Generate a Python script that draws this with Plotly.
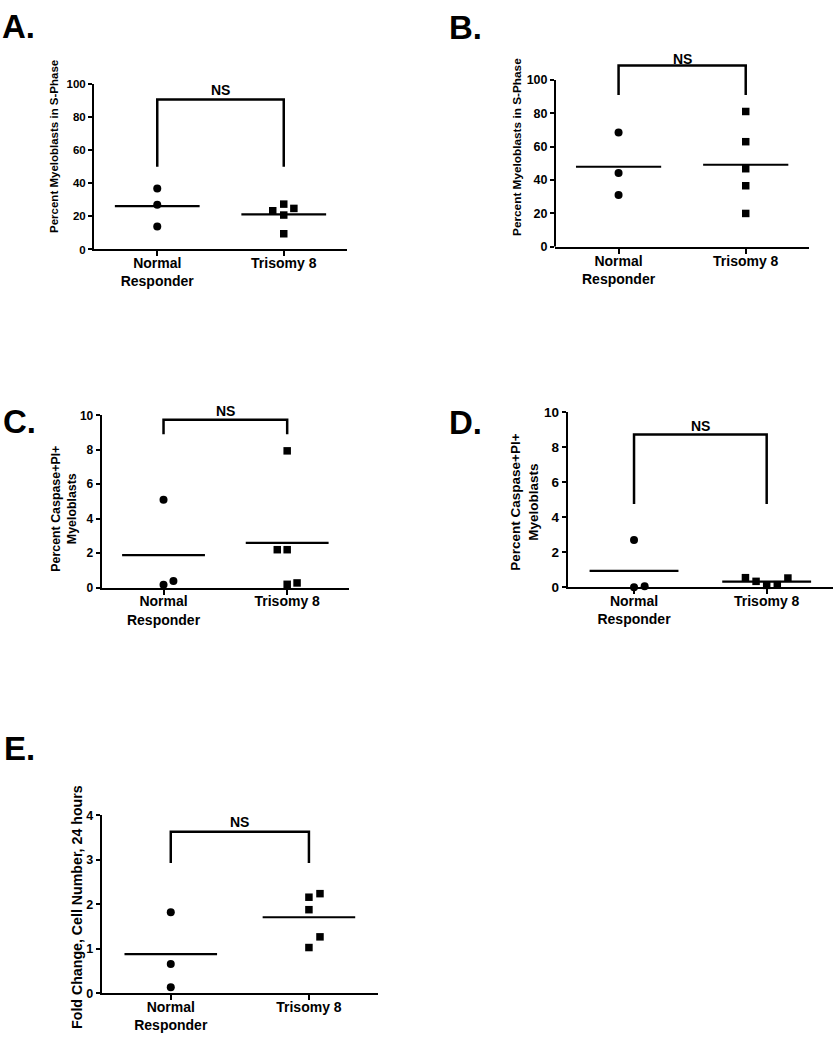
import plotly.graph_objects as go

# ---------------- data ----------------
categories = ["Normal<br>Responder", "Trisomy 8"]

a_normal = [36.9, 27.0, 13.9]
a_trisomy = [27.4, 23.4, 24.8, 20.8, 9.5]
a_means = [26.2, 21.2]
a_yticks = [0, 20, 40, 60, 80, 100]

b_normal = [68.5, 44.3, 31.0]
b_trisomy = [81.1, 63.0, 46.8, 36.6, 20.0]
b_means = [48.0, 49.2]
b_yticks = [0, 20, 40, 60, 80, 100]

c_normal = [5.1, 0.17, 0.38]
c_trisomy = [7.94, 2.2, 2.2, 0.19, 0.27]
c_means = [1.89, 2.6]
c_yticks = [0, 2, 4, 6, 8, 10]

d_normal = [2.71, 0.0, 0.06]
d_trisomy = [0.55, 0.34, 0.11, 0.15, 0.53]
d_means = [0.94, 0.32]
d_yticks = [0, 2, 4, 6, 8, 10]

e_normal = [1.82, 0.66, 0.14]
e_trisomy = [2.24, 2.16, 1.88, 1.27, 1.03]
e_means = [0.88, 1.71]
e_yticks = [0, 1, 2, 3, 4]

significance = "NS"

# ---------------- layout / styling ----------------
W, H = 835, 1050
FONT = "Liberation Sans, Arial, Helvetica, sans-serif"


def fx(p):
    return p / W


def fy(p):
    return 1 - p / H


panels = [
    dict(letter="A.", normal=a_normal, trisomy=a_trisomy, means=a_means, yticks=a_yticks,
         box=(94, 347, 78, 246), yrange=[0, 100], axis_top=100,
         jn=[0, 0, 0], jt=[0, -0.087, 0.08, 0, 0],
         bracket=(50, 90.5, 96.4),
         title="Percent Myeloblasts in S-Phase", title_pos=(54, 142), title_size=11.5,
         tick_size=11.5, letter_pos=(0, 20)),
    dict(letter="B.", normal=b_normal, trisomy=b_trisomy, means=b_means, yticks=b_yticks,
         box=(555, 809.3, 52, 243.3), yrange=[0, 113], axis_top=100,
         jn=[0, 0, 0], jt=[0, 0, 0, 0, 0],
         bracket=(91, 108.7, 112.4),
         title="Percent Myeloblasts in S-Phase", title_pos=(517, 142), title_size=11.8,
         tick_size=12.5, letter_pos=(447, 21)),
    dict(letter="C.", normal=c_normal, trisomy=c_trisomy, means=c_means, yticks=c_yticks,
         box=(101.7, 349, 414.3, 589), yrange=[0, 10], axis_top=10,
         jn=[0, 0, 0.08], jt=[0, -0.08, 0, 0, 0.08],
         bracket=(8.9, 9.75, 10.25),
         title="Percent Caspase+PI+<br>Myeloblasts", title_pos=(64, 509), title_size=12.4,
         tick_size=12, letter_pos=(1, 420)),
    dict(letter="D.", normal=d_normal, trisomy=d_trisomy, means=d_means, yticks=d_yticks,
         box=(567.7, 833, 411.3, 588.7), yrange=[0, 10], axis_top=10,
         jn=[0, 0, 0.08], jt=[-0.16, -0.08, 0, 0.08, 0.16],
         bracket=(4.76, 8.74, 9.23),
         title="Percent Caspase+PI+<br>Myeloblasts", title_pos=(525, 503), title_size=13.5,
         tick_size=13.5, letter_pos=(447, 422)),
    dict(letter="E.", normal=e_normal, trisomy=e_trisomy, means=e_means, yticks=e_yticks,
         box=(101.7, 378, 820, 1000.7), yrange=[0, 4], axis_top=4,
         jn=[0, 0, 0], jt=[0.08, 0, 0, 0.08, 0],
         bracket=(2.93, 3.63, 3.85),
         title="Fold Change, Cell Number, 24 hours", title_pos=(77, 913), title_size=14.2,
         tick_size=12.5, letter_pos=(2, 752)),
]

fig = go.Figure()
annotations = []
shapes = []
layout_axes = {}

MEAN_HALF = 0.335
MARK = 8

for i, p in enumerate(panels):
    n = "" if i == 0 else str(i + 1)
    xa, ya = "x" + n, "y" + n
    x0, x1, y0, y1 = p["box"]
    r0, r1 = p["yrange"]

    # points
    fig.add_trace(go.Scatter(
        x=[0 + j for j in p["jn"]], y=p["normal"], xaxis=xa, yaxis=ya, mode="markers",
        marker=dict(symbol="circle", size=MARK, color="black"), showlegend=False,
        cliponaxis=False))
    fig.add_trace(go.Scatter(
        x=[1 + j for j in p["jt"]], y=p["trisomy"], xaxis=xa, yaxis=ya, mode="markers",
        marker=dict(symbol="square", size=MARK - 0.5, color="black"), showlegend=False,
        cliponaxis=False))
    # mean lines
    for k, m in enumerate(p["means"]):
        fig.add_trace(go.Scatter(
            x=[k - MEAN_HALF, k + MEAN_HALF], y=[m, m], xaxis=xa, yaxis=ya, mode="lines",
            line=dict(color="black", width=2.2), showlegend=False))
    # bracket
    lo, top, ns_y = p["bracket"]
    fig.add_trace(go.Scatter(
        x=[0, 0, 1, 1], y=[lo, top, top, lo], xaxis=xa, yaxis=ya, mode="lines",
        line=dict(color="black", width=2.5), showlegend=False))
    annotations.append(dict(
        x=0.5, y=(ns_y - r0) / (r1 - r0), xref=xa, yref=ya + " domain", text=significance,
        showarrow=False,
        font=dict(family=FONT, size=14, color="black", weight="bold"),
        xanchor="center", yanchor="middle"))

    manual_yline = p["axis_top"] != r1
    layout_axes["xaxis" + n] = dict(
        domain=[fx(x0), fx(x1)], anchor=ya, range=[-0.5, 1.5],
        tickvals=[0, 1], ticktext=categories, ticks="outside", ticklen=5, tickwidth=2,
        tickcolor="black", showline=True, linewidth=2, linecolor="black",
        showgrid=False, zeroline=False, fixedrange=True, ticklabelstandoff=-5,
        tickfont=dict(family=FONT, size=14, color="black", weight="bold"))
    layout_axes["yaxis" + n] = dict(
        domain=[fy(y1), fy(y0)], anchor=xa, range=[r0, r1],
        tickvals=p["yticks"], ticks="outside", ticklen=4, tickwidth=2,
        tickcolor="black", showline=not manual_yline, linewidth=2, linecolor="black",
        showgrid=False, zeroline=False, fixedrange=True,
        tickfont=dict(family=FONT, size=p["tick_size"], color="black", weight="bold"))
    if manual_yline:
        shapes.append(dict(type="line", xref=xa + " domain", yref=ya,
                           x0=0, x1=0, y0=r0, y1=p["axis_top"],
                           line=dict(color="black", width=2)))

    # axis title
    tx, ty = p["title_pos"]
    annotations.append(dict(
        x=fx(tx), y=fy(ty), xref="paper", yref="paper", text=p["title"], textangle=-90,
        showarrow=False, xanchor="center", yanchor="middle",
        font=dict(family=FONT, size=p["title_size"], color="black", weight="bold")))
    # panel letter
    lx, ly = p["letter_pos"]
    annotations.append(dict(
        x=fx(lx), y=fy(ly), xref="paper", yref="paper", text=p["letter"],
        showarrow=False, xanchor="left", yanchor="middle",
        font=dict(family=FONT, size=33, color="black", weight="bold")))

fig.update_layout(
    width=W, height=H, margin=dict(l=0, r=0, t=0, b=0),
    paper_bgcolor="white", plot_bgcolor="white",
    showlegend=False, annotations=annotations, shapes=shapes,
    font=dict(family=FONT, color="black"),
    **layout_axes)

fig.write_html(
    "out.html", config={"displayModeBar": False},
    post_script="document.body.style.margin='0px';document.body.style.overflow='hidden';")
